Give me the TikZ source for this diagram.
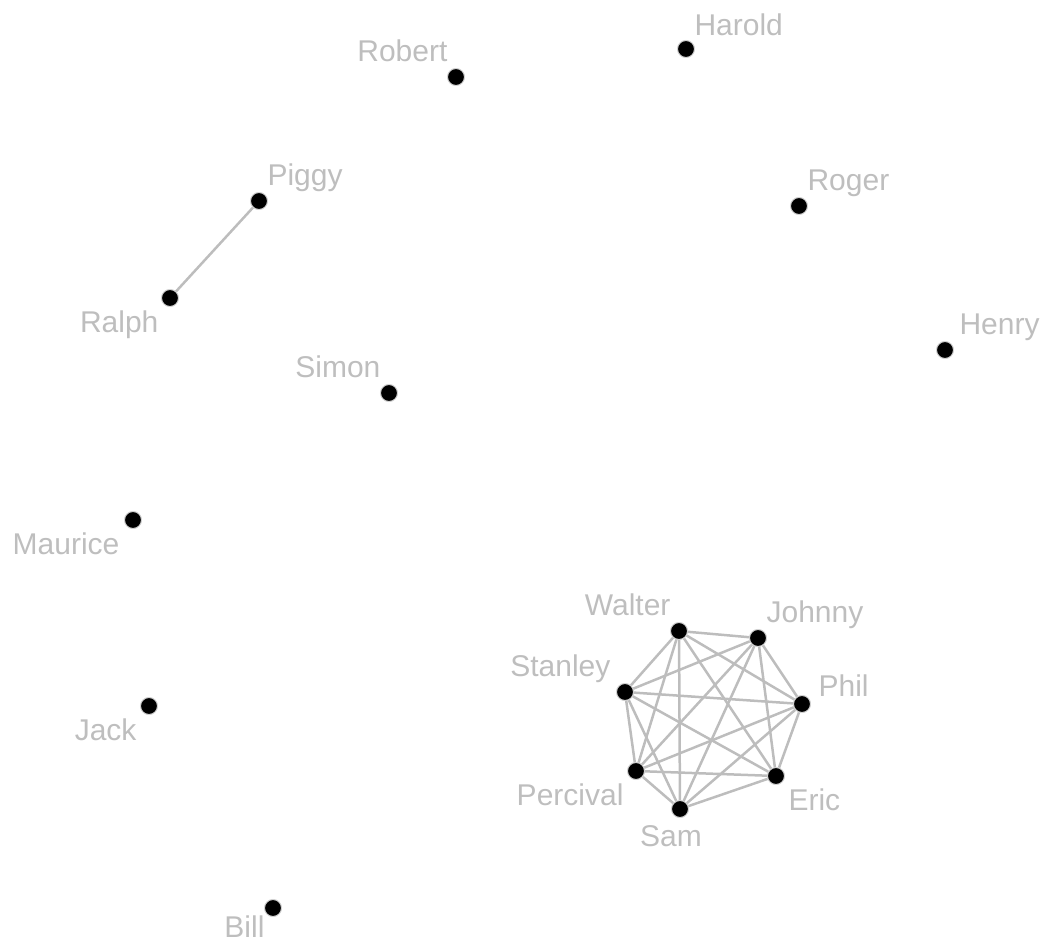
\documentclass[tikz,border=0pt]{standalone}
\usepackage{fontspec}
\setmainfont{Liberation Sans}
\definecolor{edgegray}{RGB}{189,189,189}
\definecolor{labgray}{RGB}{190,190,190}
\tikzset{
  boy/.style={circle,fill=black,draw=gray!35,line width=1pt,minimum size=17pt,inner sep=0pt},
  lab/.style={text=labgray,font=\fontsize{30}{32}\selectfont,inner sep=2pt,text height=22pt,text depth=7pt,label distance=0pt},
  lablow/.style={lab,yshift=-4pt},
  edge/.style={edgegray,line width=2.5pt}
}
\begin{document}
\begin{tikzpicture}[x=1pt,y=-1pt]
    \useasboundingbox (0,0) rectangle (1044,947);
    % loners
    \node[boy,label={[lab,yshift=-2pt]above right:Harold}] (harold) at (686,49) {};
    \node[boy,label={[lab]above left:Robert}] (robert) at (456,77) {};
    \node[boy,label={[lab]above right:Piggy}] (piggy) at (259,201) {};
    \node[boy,label={[lab]above right:Roger}] (roger) at (799,206) {};
    \node[boy,label={[lablow,xshift=-3pt]below left:Ralph}] (ralph) at (170,298) {};
    \node[boy,label={[lab,xshift=6pt]above right:Henry}] (henry) at (945,350) {};
    \node[boy,label={[lab]above left:Simon}] (simon) at (389,393) {};
    \node[boy,label={[lablow,xshift=-5pt]below left:Maurice}] (maurice) at (133,520) {};
    \node[boy,label={[lablow,xshift=-4pt]below left:Jack}] (jack) at (149,706) {};
    \node[boy,label={[lab,yshift=1pt]below left:Bill}] (bill) at (273,908) {};
    \draw[edge] (ralph) -- (piggy);
    % the clique
    \node[boy,label={[lab]above left:Walter}] (walter) at (679,631) {};
    \node[boy,label={[lab]above right:Johnny}] (johnny) at (758,638) {};
    \node[boy,label={[lab,xshift=8pt,yshift=-8pt]above right:Phil}] (phil) at (802,704) {};
    \node[boy,label={[lablow,xshift=4pt]below right:Eric}] (eric) at (776,776) {};
    \node[boy,label={[lablow,xshift=-9pt]below:Sam}] (sam) at (680,809) {};
    \node[boy,label={[lablow,xshift=-4pt]below left:Percival}] (percival) at (636,771) {};
    \node[boy,label={[lab,xshift=-6pt]above left:Stanley}] (stanley) at (625,692) {};
    \foreach \a/\rest in {walter/{johnny,phil,eric,sam,percival,stanley},
                          johnny/{phil,eric,sam,percival,stanley},
                          phil/{eric,sam,percival,stanley},
                          eric/{sam,percival,stanley},
                          sam/{percival,stanley},
                          percival/{stanley}}
        \foreach \b in \rest
            \draw[edge] (\a) -- (\b);
\end{tikzpicture}
\end{document}
